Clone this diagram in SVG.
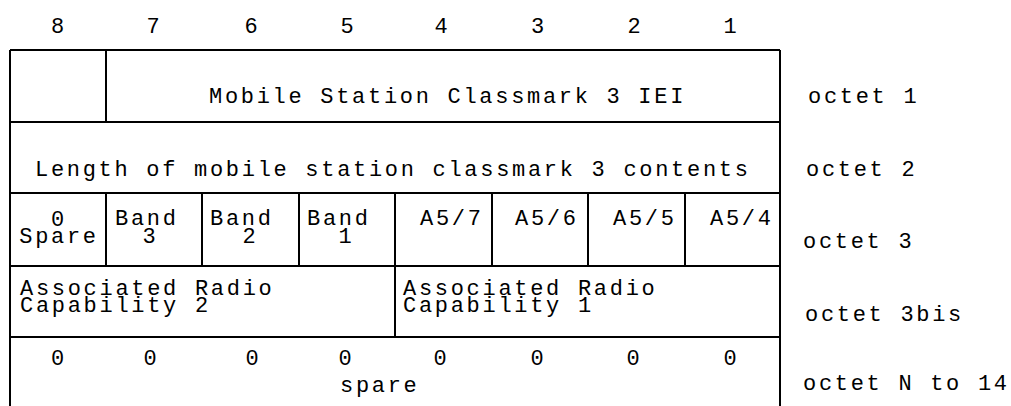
<svg xmlns="http://www.w3.org/2000/svg" width="1011" height="406" viewBox="0 0 1011 406">
<style>
text{font-family:"Liberation Mono","DejaVu Sans Mono",monospace;font-size:22px;letter-spacing:2.7px;fill:#000}
.m{text-anchor:middle}
.ln{stroke:#000;stroke-width:2;fill:none}
</style>
<rect width="1011" height="406" fill="#fff"/>
<g id="header">
<text class="m" x="59" y="33">8</text>
<text class="m" x="154.5" y="33">7</text>
<text class="m" x="252.5" y="33">6</text>
<text class="m" x="348.5" y="33">5</text>
<text class="m" x="442.5" y="33">4</text>
<text class="m" x="539" y="33">3</text>
<text class="m" x="635.5" y="33">2</text>
<text class="m" x="731.5" y="33">1</text>
</g>
<g id="grid" class="ln">
<path d="M10 50H780M10 122H780M10 193H780M10 266H780M10 337H780"/>
<path d="M10 50V406M780 50V406"/>
<path d="M106 50V122"/>
<path d="M106 193V266M202 193V266M299 193V266M395 193V266M492 193V266M588 193V266M685 193V266"/>
<path d="M395 266V337"/>
</g>
<g id="row1">
<text x="209" y="103">Mobile Station Classmark 3 IEI</text>
<text x="808" y="103">octet 1</text>
</g>
<g id="row2">
<text x="35" y="176">Length of mobile station classmark 3 contents</text>
<text x="806" y="176">octet 2</text>
</g>
<g id="row3">
<text class="m" x="59" y="226">0</text>
<text class="m" x="59" y="243">Spare</text>
<text x="115" y="225">Band</text>
<text class="m" x="150.5" y="243">3</text>
<text x="210" y="225">Band</text>
<text class="m" x="250.5" y="243">2</text>
<text x="307" y="225">Band</text>
<text class="m" x="346.5" y="243">1</text>
<text x="420" y="225">A5/7</text>
<text x="515" y="225">A5/6</text>
<text x="613" y="225">A5/5</text>
<text x="710" y="225">A5/4</text>
<text x="803" y="248">octet 3</text>
</g>
<g id="row4">
<text x="20" y="295">Associated Radio</text>
<text x="20" y="312">Capability 2</text>
<text x="403" y="295">Associated Radio</text>
<text x="403" y="312">Capability 1</text>
<text x="805" y="321">octet 3bis</text>
</g>
<g id="row5">
<text class="m" x="59" y="365">0</text>
<text class="m" x="151.5" y="365">0</text>
<text class="m" x="253.5" y="365">0</text>
<text class="m" x="346.5" y="365">0</text>
<text class="m" x="441.5" y="365">0</text>
<text class="m" x="538.5" y="365">0</text>
<text class="m" x="634.5" y="365">0</text>
<text class="m" x="731.5" y="365">0</text>
<text x="340" y="392">spare</text>
<text x="803" y="390">octet N to 14</text>
</g>
</svg>
